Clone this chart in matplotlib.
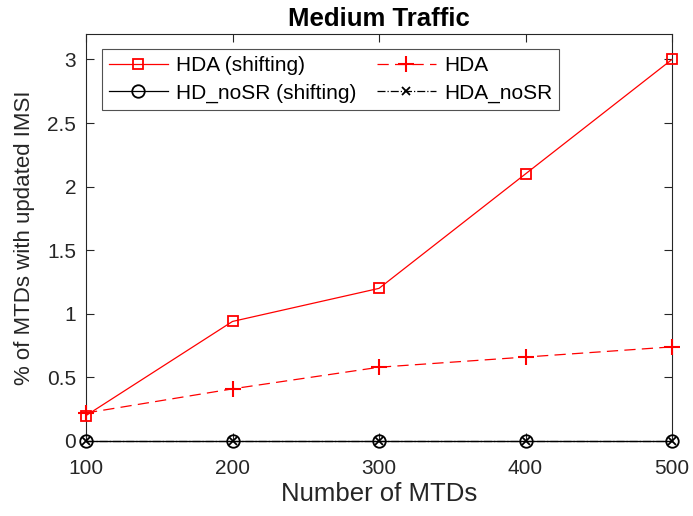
import matplotlib
matplotlib.use("Agg")
import matplotlib.pyplot as plt
import matplotlib.ticker as ticker

plt.rcParams['font.family'] = ['Liberation Sans', 'DejaVu Sans']

mtds = [100, 200, 300, 400, 500]
hda_shift = [0.2, 0.94, 1.2, 2.1, 3.0]
hda = [0.22, 0.41, 0.58, 0.66, 0.74]
hd_nosr_shift = [0, 0, 0, 0, 0]
hda_nosr = [0, 0, 0, 0, 0]

fig = plt.figure(figsize=(6.93, 5.16), dpi=100)
# axes box from x=86..672, y=34..441 px
ax = fig.add_axes([86 / 693, 75 / 516, 586 / 693, 407 / 516])

l1, = ax.plot(mtds, hda_shift, color='red', lw=0.9, marker='s', ms=7, mfc='none', mew=1.3,
              label='HDA (shifting)', clip_on=False, zorder=4)
l2, = ax.plot(mtds, hda, color='red', lw=0.9, ls=(0, (9, 5)), marker='+', ms=11, mew=1.5,
              label='HDA', clip_on=False, zorder=4)
l3, = ax.plot(mtds, hd_nosr_shift, color='black', lw=0.9, marker='o', ms=9, mfc='none', mew=1.3,
              label='HD_noSR (shifting)', clip_on=False, zorder=3)
l4, = ax.plot(mtds, hda_nosr, color='black', lw=0.9, ls='-.', marker='x', ms=6, mew=1.3,
              label='HDA_noSR', clip_on=False, zorder=3)

ax.set_xlim(100, 500)
ax.set_ylim(0, 3.2)
ax.xaxis.set_major_locator(ticker.MultipleLocator(100))
ax.yaxis.set_major_locator(ticker.MultipleLocator(0.5))
ax.yaxis.set_major_formatter(ticker.FuncFormatter(lambda v, p: f'{v:g}'))

gray = '#262626'
for s in ax.spines.values():
    s.set_color(gray)
    s.set_linewidth(0.8)
ax.tick_params(direction='in', top=True, right=True, length=6, width=0.8,
               labelsize=15, colors=gray, pad=7)
ax.tick_params(axis='x', pad=13)

ax.set_xlabel('Number of MTDs', fontsize=18.5, color=gray, labelpad=3)
ax.set_ylabel('% of MTDs with updated IMSI', fontsize=16, color=gray, labelpad=9)
ax.set_title('Medium Traffic', fontsize=18.5, fontweight='bold', pad=6)

# matplotlib fills legend columns first, so order handles to read row-wise
leg = ax.legend([l1, l3, l2, l4], ['HDA (shifting)', 'HD_noSR (shifting)', 'HDA', 'HDA_noSR'],
                ncol=2, loc='upper left', bbox_to_anchor=(16 / 586, 1 - 15 / 407), fontsize=15,
                frameon=True, fancybox=False, edgecolor=gray, borderpad=0.35,
                handlelength=2.8, columnspacing=1.0, labelspacing=0.4, handletextpad=0.4,
                borderaxespad=0)
leg.get_frame().set_linewidth(0.8)

fig.savefig('out.png', dpi=100)
